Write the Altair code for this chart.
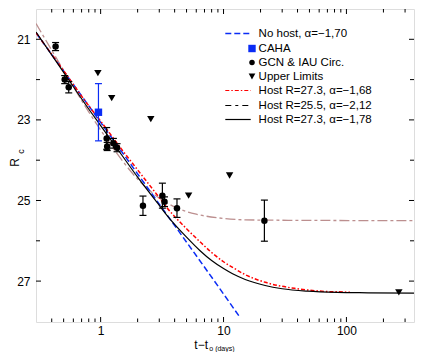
import altair as alt
import pandas as pd

# ---------------- data ----------------
gcn_t = [0.43, 0.51, 0.55, 1.12, 1.13, 1.27, 1.36, 2.21, 3.18, 3.31, 4.18, 21.5]
gcn_r = [21.18, 22.0, 22.19, 23.46, 23.66, 23.58, 23.69, 25.13, 24.88, 25.03, 25.19, 25.5]
gcn_err = [0.1, 0.1, 0.14, 0.27, 0.1, 0.12, 0.1, 0.24, 0.31, 0.12, 0.23, 0.51]

caha_t = [0.96]
caha_r = [22.81]
caha_err = [0.71]

ul_t = [0.95, 1.23, 2.56, 5.2, 11.2, 267]
ul_r = [21.84, 22.46, 22.98, 24.88, 24.38, 27.28]

nohost_t = [0.298, 1.0, 3.0, 10.0, 13.6]
nohost_r = [20.84, 23.06, 25.09, 27.32, 27.9]

red_t = [0.298, 0.5, 0.8, 1.0, 1.5, 2.0, 3.0, 3.49, 5.0, 6.41, 8.0, 10.0, 11.85,
         15.0, 21.8, 30.0, 37.8, 48.4, 70.0, 94.5, 107]
red_r = [20.84, 21.78, 22.65, 23.03, 23.75, 24.24, 24.93, 25.19, 25.7, 26.02, 26.29,
         26.52, 26.66, 26.84, 27.03, 27.13, 27.18, 27.22, 27.26, 27.27, 27.28]

brown_t = [0.298, 0.5, 0.8, 1.0, 1.5, 2.0, 3.0, 4.2, 6.0, 9.0, 15.0, 30.0, 354.6]
brown_r = [20.61, 21.77, 22.8, 23.25, 24.01, 24.47, 24.94, 25.19, 25.34, 25.43,
           25.48, 25.49, 25.5]

black_t = [0.298, 0.5, 0.8, 1.0, 1.5, 2.0, 3.0, 3.49, 5.0, 6.41, 8.0, 10.0, 11.85,
           15.0, 21.8, 30.0, 48.4, 84.0, 150.0, 354.6]
black_r = [20.82, 21.82, 22.73, 23.14, 23.89, 24.42, 25.12, 25.38, 25.91, 26.24,
           26.49, 26.69, 26.82, 26.96, 27.11, 27.19, 27.25, 27.28, 27.29, 27.3]

x_major = [1, 10, 100]
x_minor = [0.4, 0.5, 0.6, 0.7, 0.8, 0.9, 2, 3, 4, 5, 6, 7, 8, 9,
           20, 30, 40, 50, 60, 70, 80, 90, 200, 300]
y_major = [21, 23, 25, 27]
y_minor = [22, 24, 26]

legend_labels = ["No host, α=−1,70", "CAHA", "GCN & IAU Circ.", "Upper Limits",
                 "Host R=27.3, α=−1,68", "Host R=25.5, α=−2,12", "Host R=27.3, α=−1,78"]

# ---------------- layout ----------------
W, H = 378, 313
FONT = "Liberation Sans"
BLUE = "#0a2cf5"
RED = "#ff0000"
BROWN = "#bc8f8f"

xs = alt.Scale(type="log", domain=[0.2979, 354.6], nice=False)
ys = alt.Scale(domain=[20.248, 28.015], reverse=True, nice=False, zero=False)
x_axis = alt.Axis(values=x_major, format=".0f", grid=False, ticks=False, tickSize=0,
                  domain=False, title=None, labelFontSize=12, labelFont=FONT,
                  labelColor="black", labelPadding=3)
y_axis = alt.Axis(values=y_major, format=".0f", grid=False, ticks=False, tickSize=0,
                  domain=False, title=None, labelFontSize=12, labelFont=FONT,
                  labelColor="black", labelPadding=6)


def X(field="t"):
    return alt.X(f"{field}:Q", scale=xs, axis=x_axis)


def Y(field="r"):
    return alt.Y(f"{field}:Q", scale=ys, axis=y_axis)


def curve(t, r, color, width, dash=None):
    df = pd.DataFrame({"t": t, "r": r})
    kw = dict(color=color, strokeWidth=width, clip=True, interpolate="monotone")
    if dash:
        kw["strokeDash"] = dash
    return alt.Chart(df).mark_line(**kw).encode(x=X(), y=Y())


layers = []

# model curves
layers.append(curve(brown_t, brown_r, BROWN, 1.3, [10, 3, 3, 3]))
layers.append(curve(nohost_t, nohost_r, BLUE, 1.5, [6, 3]))
layers.append(curve(red_t, red_r, RED, 1.5, [4, 2, 1.5, 2]))
layers.append(curve(black_t, black_r, "black", 1.2))

# error bars
def errbars(t, r, e, color):
    df = pd.DataFrame({"t": t, "lo": [a - b for a, b in zip(r, e)],
                       "hi": [a + b for a, b in zip(r, e)]})
    base = alt.Chart(df)
    bar = base.mark_rule(color=color, strokeWidth=1.2).encode(
        x=X(), y=Y("lo"), y2="hi:Q")
    cap1 = base.mark_tick(color=color, orient="horizontal", size=7, thickness=1.2,
                          opacity=1).encode(x=X(), y=Y("lo"))
    cap2 = base.mark_tick(color=color, orient="horizontal", size=7, thickness=1.2,
                          opacity=1).encode(x=X(), y=Y("hi"))
    return [bar, cap1, cap2]


layers += errbars(gcn_t, gcn_r, gcn_err, "black")
layers += errbars(caha_t, caha_r, caha_err, BLUE)

gcn_df = pd.DataFrame({"t": gcn_t, "r": gcn_r})
layers.append(alt.Chart(gcn_df).mark_point(shape="circle", filled=True, size=42,
                                           color="black", opacity=1).encode(x=X(), y=Y()))
caha_df = pd.DataFrame({"t": caha_t, "r": caha_r})
layers.append(alt.Chart(caha_df).mark_point(shape="square", filled=True, size=55,
                                            color=BLUE, opacity=1).encode(x=X(), y=Y()))
ul_df = pd.DataFrame({"t": ul_t, "r": ul_r})
layers.append(alt.Chart(ul_df).mark_point(shape="triangle-down", filled=True, size=55,
                                          color="black", opacity=1).encode(x=X(), y=Y()))

# inward ticks on all four sides
def xticks(vals, length):
    df = pd.DataFrame({"t": vals})
    b = alt.Chart(df)
    return [b.mark_rule(color="black").encode(x=X(), y=alt.value(0), y2=alt.value(length)),
            b.mark_rule(color="black").encode(x=X(), y=alt.value(H), y2=alt.value(H - length))]


def yticks(vals, length):
    df = pd.DataFrame({"r": vals})
    b = alt.Chart(df)
    return [b.mark_rule(color="black").encode(y=Y(), x=alt.value(0), x2=alt.value(length)),
            b.mark_rule(color="black").encode(y=Y(), x=alt.value(W), x2=alt.value(W - length))]


layers += xticks(x_major, 5) + xticks(x_minor, 3.5)
layers += yticks(y_major, 5) + yticks(y_minor, 4)

# manual legend
dummy = pd.DataFrame({"d": [0]})
rows = [24.5, 39.5, 53.5, 67.5, 81.5, 96.5, 110.5]
sx0, sx1, mx, tx = 189.3, 214.7, 216.0, 222.6


def swatch(row, color, width, dash=None):
    kw = dict(color=color, strokeWidth=width)
    if dash:
        kw["strokeDash"] = dash
    return alt.Chart(dummy).mark_rule(**kw).encode(
        x=alt.value(sx0), x2=alt.value(sx1), y=alt.value(rows[row]))


def sym(row, shape, color, size):
    return alt.Chart(dummy).mark_point(shape=shape, filled=True, size=size, color=color,
                                       opacity=1).encode(x=alt.value(mx), y=alt.value(rows[row]))


layers.append(swatch(0, BLUE, 1.5, [6, 3]))
layers.append(sym(1, "square", BLUE, 55))
layers.append(sym(2, "circle", "black", 30))
layers.append(sym(3, "triangle-down", "black", 45))
layers.append(swatch(4, RED, 1.2, [4, 2, 1.5, 2]))
layers.append(swatch(5, "black", 1.2, [6, 4, 3, 4]))
layers.append(swatch(6, "black", 1.2))
for i, lab in enumerate(legend_labels):
    layers.append(alt.Chart(dummy).mark_text(align="left", baseline="middle", fontSize=11.5,
                                             font=FONT, color="black").encode(
        x=alt.value(tx), y=alt.value(rows[i]), text=alt.value(lab)))

# axis titles as text
def txt(s, x, y, size, angle=0, align="left"):
    kw = dict(align=align, baseline="middle", fontSize=size, font=FONT, color="black")
    if angle:
        kw["angle"] = angle
    return alt.Chart(dummy).mark_text(**kw).encode(x=alt.value(x), y=alt.value(y),
                                                    text=alt.value(s))


layers.append(txt("t−t", 158.3, 336.0, 12))
layers.append(txt("o (days)", 173.3, 340.0, 7))
layers.append(txt("R", -21, 153.5, 12, angle=270, align="center"))
layers.append(txt("c", -15.5, 142.5, 9, angle=270, align="center"))

chart = alt.layer(*layers).properties(
    width=W, height=H,
    autosize=alt.AutoSizeParams(type="none"),
    padding={"left": 28, "top": 1, "right": 1, "bottom": 30},
).configure_view(stroke="black", strokeWidth=1).configure(background="white")

chart.save("out.html", embed_options={"renderer": "svg", "actions": False})
